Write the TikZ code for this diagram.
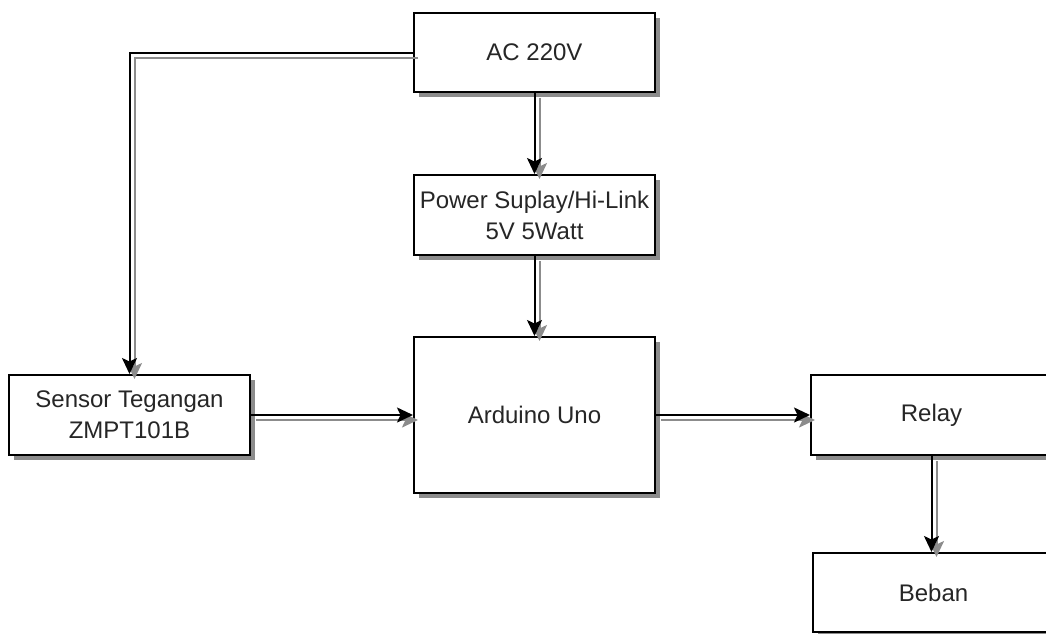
\documentclass[tikz,border=0pt]{standalone}
\usepackage{fontspec}
\setmainfont{Liberation Sans}
\usetikzlibrary{arrows.meta,shadows}
\tikzset{
  blk/.style={draw=black, line width=2pt, fill=white, inner sep=0pt,
    minimum width=241pt, align=center, text=black!85,
    font=\fontsize{24}{31}\selectfont,
    drop shadow={shadow xshift=4.5pt, shadow yshift=-4.5pt, fill=black, opacity=0.45}},
  conn/.style={draw=black, line width=2pt,
    -{Stealth[length=16pt,width=15pt,inset=3.5pt]}},
  connshadow/.style={draw=black!45, line width=2pt,
    -{Stealth[length=16pt,width=15pt,inset=3.5pt]},
    transform canvas={xshift=5pt,yshift=-5pt}}
}
\begin{document}
\begin{tikzpicture}[x=1pt,y=-1pt]
\useasboundingbox (0,0) rectangle (1046,633);
\clip (0,0) rectangle (1046,633);
\node[blk, minimum height=79pt]  (ac)    at (534.5,52.5) {AC 220V};
\node[blk, minimum height=80pt]  (ps)    at (534.5,215) {Power Suplay/Hi-Link\\5V 5Watt};
\node[blk, minimum height=156pt] (ard)   at (534.5,415) {Arduino Uno};
\node[blk, minimum height=80pt]  (sen)   at (129.5,415) {Sensor Tegangan\\ZMPT101B};
\node[blk, minimum height=80pt]  (relay) at (931.5,415) {Relay};
\node[blk, minimum height=79pt]  (beban) at (933.5,592.5) {Beban};
% shadows of connectors
\draw[connshadow] (ac.south) -- (ps.north);
\draw[connshadow] (ps.south) -- (ard.north);
\draw[connshadow] (ac.west) -| (sen.north);
\draw[connshadow] (sen.east) -- (ard.west);
\draw[connshadow] (ard.east) -- (relay.west);
\draw[connshadow] (relay.south) -- (relay.south |- beban.north);
% connectors
\draw[conn] (ac.south) -- (ps.north);
\draw[conn] (ps.south) -- (ard.north);
\draw[conn] (ac.west) -| (sen.north);
\draw[conn] (sen.east) -- (ard.west);
\draw[conn] (ard.east) -- (relay.west);
\draw[conn] (relay.south) -- (relay.south |- beban.north);
\end{tikzpicture}
\end{document}
